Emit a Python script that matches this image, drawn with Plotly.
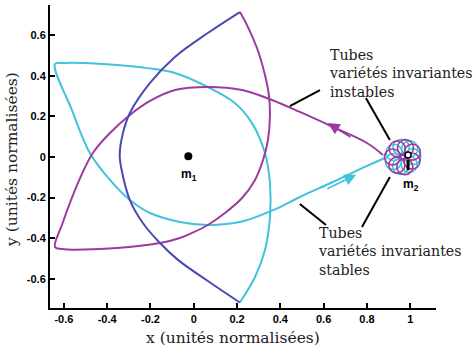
import plotly.graph_objects as go

# ---------------- data ----------------
# cyan (stable manifold tube), from the tangle near m2 outward
cyan_x = [0.883, 0.800, 0.643, 0.490, 0.375, 0.223, 0.065, -0.064, -0.202, -0.295, -0.387, -0.480,
          -0.563, -0.641, -0.600, -0.512, -0.355, -0.216, -0.087, 0.065, 0.190, 0.269, 0.329, 0.352,
          0.352, 0.329, 0.283, 0.213]
cyan_y = [-0.005, -0.044, -0.123, -0.197, -0.258, -0.318, -0.335, -0.320, -0.276, -0.212, -0.113, 0.020,
          0.232, 0.458, 0.463, 0.463, 0.453, 0.438, 0.414, 0.345, 0.266, 0.167, 0.020, -0.128,
          -0.296, -0.458, -0.591, -0.717]
# small loops of the cyan tube wound around m2 (loop centres)
cyan_loop_x = [1.012, 0.998, 0.958, 0.925, 0.922, 0.955, 0.995]
cyan_loop_y = [0.002, 0.040, 0.048, 0.022, -0.022, -0.046, -0.036]

# magenta (unstable manifold tube), from the tangle near m2 outward
mag_x = [0.874, 0.800, 0.643, 0.490, 0.361, 0.223, 0.065, -0.087, -0.202, -0.295, -0.387, -0.466,
         -0.521, -0.567, -0.609, -0.641, -0.610, -0.355, -0.156, -0.064, -0.008, 0.065, 0.144, 0.223,
         0.283, 0.320, 0.343, 0.352, 0.347, 0.329, 0.292, 0.246, 0.213]
mag_y = [0.010, 0.069, 0.148, 0.222, 0.281, 0.330, 0.345, 0.330, 0.276, 0.207, 0.118, 0.020,
         -0.094, -0.212, -0.335, -0.443, -0.453, -0.448, -0.424, -0.399, -0.374, -0.335, -0.276, -0.202,
         -0.113, -0.015, 0.084, 0.207, 0.305, 0.404, 0.537, 0.650, 0.714]
mag_loop_x = [1.010, 0.978, 0.940, 0.918, 0.938, 0.975, 1.008]
mag_loop_y = [0.024, 0.046, 0.040, 0.000, -0.040, -0.048, -0.020]

# shared arc where both tubes overlap (bottom cusp -> top cusp)
arc_x = [0.213, 0.065, -0.073, -0.156, -0.235, -0.295, -0.333, -0.342, -0.327, -0.295, -0.202, -0.087, 0.065, 0.213]
arc_y = [-0.717, -0.611, -0.507, -0.424, -0.325, -0.212, -0.064, 0.010, 0.118, 0.217, 0.365, 0.493, 0.611, 0.714]

# primaries
m1_pos = (-0.025, 0.004)
m2_pos = (0.99, 0.01)

x_ticks = [-0.6, -0.4, -0.2, 0, 0.2, 0.4, 0.6, 0.8, 1]
x_tick_text = ["-0.6", "-0.4", "-0.2", "0", "0.2", "0.4", "0.6", "0.8", "1"]
y_ticks = [-0.6, -0.4, -0.2, 0, 0.2, 0.4, 0.6]
y_tick_text = ["-0.6", "-0.4", "-0.2", "0", "0.2", "0.4", "0.6"]

# ---------------- styling ----------------
CYAN = "#42c2dc"
MAG = "#9c3a9e"
BLUE = "#4a4bb0"
LW = 2
SM = 1.0

fig = go.Figure()
fig.add_trace(go.Scatter(x=cyan_x, y=cyan_y, mode="lines",
                         line=dict(color=CYAN, width=LW, shape="spline", smoothing=SM),
                         hoverinfo="skip", showlegend=False))
fig.add_trace(go.Scatter(x=mag_x, y=mag_y, mode="lines",
                         line=dict(color=MAG, width=LW, shape="spline", smoothing=SM),
                         hoverinfo="skip", showlegend=False))
fig.add_trace(go.Scatter(x=arc_x, y=arc_y, mode="lines",
                         line=dict(color=BLUE, width=LW, shape="spline", smoothing=SM),
                         hoverinfo="skip", showlegend=False))
fig.add_trace(go.Scatter(x=cyan_loop_x, y=cyan_loop_y, mode="markers",
                         marker=dict(symbol="circle-open", size=16, color=CYAN, line=dict(width=1.6)),
                         hoverinfo="skip", showlegend=False))
fig.add_trace(go.Scatter(x=mag_loop_x, y=mag_loop_y, mode="markers",
                         marker=dict(symbol="circle-open", size=16, color=MAG, line=dict(width=1.6)),
                         hoverinfo="skip", showlegend=False))
# m1
fig.add_trace(go.Scatter(x=[m1_pos[0]], y=[m1_pos[1]], mode="markers",
                         marker=dict(color="black", size=8), hoverinfo="skip", showlegend=False))
# m2
fig.add_trace(go.Scatter(x=[m2_pos[0]], y=[m2_pos[1]], mode="markers",
                         marker=dict(color="white", size=6, line=dict(color="black", width=1.5)),
                         hoverinfo="skip", showlegend=False))
fig.add_shape(type="line", x0=m2_pos[0], y0=m2_pos[1] - 0.025, x1=m2_pos[0], y1=m2_pos[1] - 0.075,
              line=dict(color="black", width=3))

# pointer lines
for (a, b, c, d) in [(0.444, 0.251, 0.583, 0.330), (0.795, 0.291, 0.906, 0.084),
                     (0.490, -0.232, 0.611, -0.335), (0.906, -0.099, 0.777, -0.345)]:
    fig.add_shape(type="line", x0=a, y0=b, x1=c, y1=d, line=dict(color="black", width=2))

# direction arrows
fig.add_annotation(x=0.620, y=0.167, ax=0.731, ay=0.094, xref="x", yref="y", axref="x", ayref="y",
                   showarrow=True, arrowhead=2, arrowsize=1.3, arrowwidth=1.8, arrowcolor=MAG, text="")
fig.add_annotation(x=0.750, y=-0.087, ax=0.610, ay=-0.160, xref="x", yref="y", axref="x", ayref="y",
                   showarrow=True, arrowhead=2, arrowsize=1.3, arrowwidth=1.8, arrowcolor=CYAN, text="")

# labels m1, m2
fig.add_annotation(x=m1_pos[0] + 0.005, y=-0.09, text="<b>m<sub>1</sub></b>", showarrow=False,
                   font=dict(family="Liberation Sans", size=12, color="black"))
fig.add_annotation(x=1.005, y=-0.14, text="<b>m<sub>2</sub></b>", showarrow=False,
                   font=dict(family="Liberation Sans", size=12, color="black"))

SERIF = "DejaVu Serif"
TS = 14.2
fig.add_annotation(xref="paper", yref="paper", x=(327 - 50) / 386, y=(348 - 40 - 45) / 303,
                   xanchor="left", yanchor="top", align="left", showarrow=False,
                   text="Tubes<br>variétés invariantes<br>instables",
                   font=dict(family=SERIF, size=TS, color="#222"))
fig.add_annotation(xref="paper", yref="paper", x=(316 - 50) / 386, y=(348 - 40 - 223) / 303,
                   xanchor="left", yanchor="top", align="left", showarrow=False,
                   text="Tubes<br>variétés invariantes<br>stables",
                   font=dict(family=SERIF, size=TS, color="#222"))

# axis titles
fig.add_annotation(xref="paper", yref="paper", x=(233 - 50) / 386, y=-(338 - 308) / 303,
                   xanchor="center", yanchor="middle", showarrow=False,
                   text="x (unités normalisées)", font=dict(family=SERIF, size=15.5, color="#222"))
fig.add_annotation(xref="paper", yref="paper", x=-(50 - 12) / 386, y=(308 - 160) / 303,
                   xanchor="center", yanchor="middle", showarrow=False, textangle=-90,
                   text="y (unités normalisées)", font=dict(family=SERIF, size=15.5, color="#222"))

fig.update_layout(
    width=474, height=348,
    margin=dict(l=50, r=38, t=5, b=40),
    paper_bgcolor="white", plot_bgcolor="white",
    showlegend=False,
    xaxis=dict(range=[-0.664, 1.119], tickvals=x_ticks, ticktext=x_tick_text,
               showgrid=False, zeroline=False, showline=True, linecolor="black", linewidth=2,
               ticks="inside", ticklen=5, tickwidth=1.5, tickcolor="black",
               tickfont=dict(family="Liberation Sans", size=11, color="black", weight="bold")),
    yaxis=dict(range=[-0.744, 0.749], tickvals=y_ticks, ticktext=y_tick_text,
               showgrid=False, zeroline=False, showline=True, linecolor="black", linewidth=2,
               ticks="inside", ticklen=5, tickwidth=1.5, tickcolor="black",
               tickfont=dict(family="Liberation Sans", size=11, color="black", weight="bold")),
)

fig.write_html("out.html", config={"displayModeBar": False},
               post_script="document.body.style.margin='0px';")
